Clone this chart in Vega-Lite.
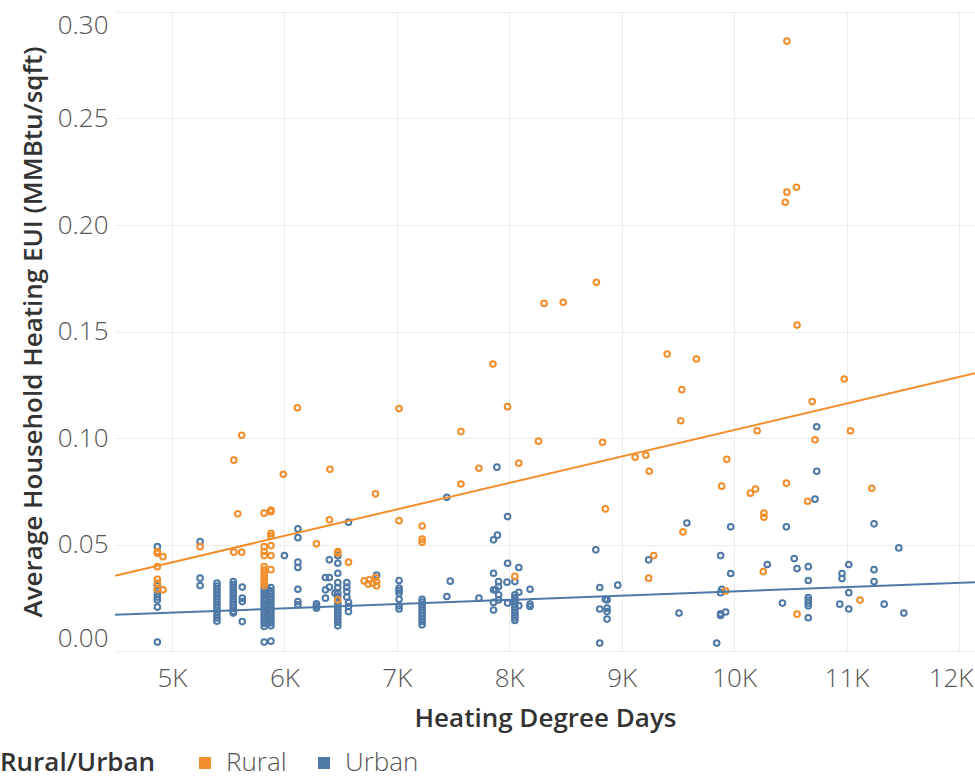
{
  "$schema": "https://vega.github.io/schema/vega-lite/v6.json",
  "width": 860,
  "height": 639,
  "autosize": "none",
  "padding": {"left": 115, "top": 12, "right": 0, "bottom": 127},
  "background": "#ffffff",
  "datasets": {
    "points": [
      {"hdd":4870,"eui":0.0490,"area":"Urban"},{"hdd":4870,"eui":0.0306,"area":"Urban"},{"hdd":4870,"eui":0.0287,"area":"Urban"},{"hdd":4870,"eui":0.0268,"area":"Urban"},{"hdd":4870,"eui":0.0253,"area":"Urban"},{"hdd":4870,"eui":0.0240,"area":"Urban"},{"hdd":4870,"eui":0.0206,"area":"Urban"},{"hdd":4870,"eui":0.0042,"area":"Urban"},
      {"hdd":5250,"eui":0.0514,"area":"Urban"},{"hdd":5250,"eui":0.0342,"area":"Urban"},{"hdd":5250,"eui":0.0307,"area":"Urban"},
      {"hdd":5400,"eui":0.0319,"area":"Urban"},{"hdd":5400,"eui":0.0305,"area":"Urban"},{"hdd":5400,"eui":0.0290,"area":"Urban"},{"hdd":5400,"eui":0.0275,"area":"Urban"},{"hdd":5400,"eui":0.0260,"area":"Urban"},{"hdd":5400,"eui":0.0245,"area":"Urban"},{"hdd":5400,"eui":0.0230,"area":"Urban"},{"hdd":5400,"eui":0.0215,"area":"Urban"},{"hdd":5400,"eui":0.0200,"area":"Urban"},{"hdd":5400,"eui":0.0185,"area":"Urban"},{"hdd":5400,"eui":0.0170,"area":"Urban"},{"hdd":5400,"eui":0.0155,"area":"Urban"},{"hdd":5400,"eui":0.0140,"area":"Urban"},
      {"hdd":5545,"eui":0.0326,"area":"Urban"},{"hdd":5545,"eui":0.0312,"area":"Urban"},{"hdd":5545,"eui":0.0298,"area":"Urban"},{"hdd":5545,"eui":0.0284,"area":"Urban"},{"hdd":5545,"eui":0.0270,"area":"Urban"},{"hdd":5545,"eui":0.0256,"area":"Urban"},{"hdd":5545,"eui":0.0242,"area":"Urban"},{"hdd":5545,"eui":0.0228,"area":"Urban"},{"hdd":5545,"eui":0.0214,"area":"Urban"},{"hdd":5545,"eui":0.0200,"area":"Urban"},{"hdd":5545,"eui":0.0186,"area":"Urban"},{"hdd":5545,"eui":0.0178,"area":"Urban"},
      {"hdd":5625,"eui":0.0300,"area":"Urban"},{"hdd":5625,"eui":0.0248,"area":"Urban"},{"hdd":5625,"eui":0.0232,"area":"Urban"},{"hdd":5625,"eui":0.0138,"area":"Urban"},
      {"hdd":5820,"eui":0.0295,"area":"Urban"},{"hdd":5820,"eui":0.0280,"area":"Urban"},{"hdd":5820,"eui":0.0265,"area":"Urban"},{"hdd":5820,"eui":0.0250,"area":"Urban"},{"hdd":5820,"eui":0.0235,"area":"Urban"},{"hdd":5820,"eui":0.0220,"area":"Urban"},{"hdd":5820,"eui":0.0205,"area":"Urban"},{"hdd":5820,"eui":0.0190,"area":"Urban"},{"hdd":5820,"eui":0.0175,"area":"Urban"},{"hdd":5820,"eui":0.0160,"area":"Urban"},{"hdd":5820,"eui":0.0145,"area":"Urban"},{"hdd":5820,"eui":0.0130,"area":"Urban"},{"hdd":5820,"eui":0.0115,"area":"Urban"},{"hdd":5820,"eui":0.0042,"area":"Urban"},
      {"hdd":5850,"eui":0.0290,"area":"Urban"},{"hdd":5850,"eui":0.0260,"area":"Urban"},{"hdd":5850,"eui":0.0228,"area":"Urban"},{"hdd":5850,"eui":0.0196,"area":"Urban"},{"hdd":5850,"eui":0.0164,"area":"Urban"},{"hdd":5850,"eui":0.0132,"area":"Urban"},
      {"hdd":5880,"eui":0.0298,"area":"Urban"},{"hdd":5880,"eui":0.0283,"area":"Urban"},{"hdd":5880,"eui":0.0268,"area":"Urban"},{"hdd":5880,"eui":0.0253,"area":"Urban"},{"hdd":5880,"eui":0.0238,"area":"Urban"},{"hdd":5880,"eui":0.0223,"area":"Urban"},{"hdd":5880,"eui":0.0208,"area":"Urban"},{"hdd":5880,"eui":0.0193,"area":"Urban"},{"hdd":5880,"eui":0.0178,"area":"Urban"},{"hdd":5880,"eui":0.0163,"area":"Urban"},{"hdd":5880,"eui":0.0148,"area":"Urban"},{"hdd":5880,"eui":0.0133,"area":"Urban"},{"hdd":5880,"eui":0.0118,"area":"Urban"},{"hdd":5880,"eui":0.0046,"area":"Urban"},
      {"hdd":6000,"eui":0.0448,"area":"Urban"},
      {"hdd":6120,"eui":0.0573,"area":"Urban"},{"hdd":6120,"eui":0.0532,"area":"Urban"},{"hdd":6120,"eui":0.0417,"area":"Urban"},{"hdd":6120,"eui":0.0392,"area":"Urban"},{"hdd":6120,"eui":0.0290,"area":"Urban"},{"hdd":6120,"eui":0.0232,"area":"Urban"},{"hdd":6120,"eui":0.0217,"area":"Urban"},
      {"hdd":6285,"eui":0.0221,"area":"Urban"},{"hdd":6285,"eui":0.0211,"area":"Urban"},{"hdd":6285,"eui":0.0201,"area":"Urban"},
      {"hdd":6365,"eui":0.0345,"area":"Urban"},{"hdd":6365,"eui":0.0287,"area":"Urban"},{"hdd":6365,"eui":0.0248,"area":"Urban"},
      {"hdd":6400,"eui":0.0428,"area":"Urban"},{"hdd":6400,"eui":0.0345,"area":"Urban"},{"hdd":6400,"eui":0.0300,"area":"Urban"},
      {"hdd":6450,"eui":0.0272,"area":"Urban"},
      {"hdd":6475,"eui":0.0447,"area":"Urban"},{"hdd":6475,"eui":0.0412,"area":"Urban"},{"hdd":6475,"eui":0.0365,"area":"Urban"},{"hdd":6475,"eui":0.0321,"area":"Urban"},{"hdd":6475,"eui":0.0298,"area":"Urban"},{"hdd":6475,"eui":0.0272,"area":"Urban"},{"hdd":6475,"eui":0.0256,"area":"Urban"},{"hdd":6475,"eui":0.0225,"area":"Urban"},{"hdd":6475,"eui":0.0210,"area":"Urban"},{"hdd":6475,"eui":0.0195,"area":"Urban"},{"hdd":6475,"eui":0.0180,"area":"Urban"},{"hdd":6475,"eui":0.0165,"area":"Urban"},{"hdd":6475,"eui":0.0150,"area":"Urban"},{"hdd":6475,"eui":0.0135,"area":"Urban"},{"hdd":6475,"eui":0.0118,"area":"Urban"},
      {"hdd":6555,"eui":0.0321,"area":"Urban"},{"hdd":6555,"eui":0.0300,"area":"Urban"},{"hdd":6555,"eui":0.0279,"area":"Urban"},{"hdd":6555,"eui":0.0253,"area":"Urban"},
      {"hdd":6570,"eui":0.0605,"area":"Urban"},{"hdd":6570,"eui":0.0228,"area":"Urban"},{"hdd":6570,"eui":0.0209,"area":"Urban"},{"hdd":6570,"eui":0.0185,"area":"Urban"},
      {"hdd":6820,"eui":0.0357,"area":"Urban"},
      {"hdd":7020,"eui":0.0331,"area":"Urban"},{"hdd":7020,"eui":0.0295,"area":"Urban"},{"hdd":7020,"eui":0.0284,"area":"Urban"},{"hdd":7020,"eui":0.0272,"area":"Urban"},{"hdd":7020,"eui":0.0243,"area":"Urban"},{"hdd":7020,"eui":0.0212,"area":"Urban"},{"hdd":7020,"eui":0.0197,"area":"Urban"},
      {"hdd":7225,"eui":0.0243,"area":"Urban"},{"hdd":7225,"eui":0.0230,"area":"Urban"},{"hdd":7225,"eui":0.0217,"area":"Urban"},{"hdd":7225,"eui":0.0204,"area":"Urban"},{"hdd":7225,"eui":0.0191,"area":"Urban"},{"hdd":7225,"eui":0.0178,"area":"Urban"},{"hdd":7225,"eui":0.0165,"area":"Urban"},{"hdd":7225,"eui":0.0152,"area":"Urban"},{"hdd":7225,"eui":0.0139,"area":"Urban"},{"hdd":7225,"eui":0.0123,"area":"Urban"},
      {"hdd":7445,"eui":0.0722,"area":"Urban"},{"hdd":7445,"eui":0.0256,"area":"Urban"},
      {"hdd":7475,"eui":0.0328,"area":"Urban"},
      {"hdd":7730,"eui":0.0248,"area":"Urban"},
      {"hdd":7860,"eui":0.0522,"area":"Urban"},{"hdd":7860,"eui":0.0365,"area":"Urban"},{"hdd":7860,"eui":0.0287,"area":"Urban"},{"hdd":7860,"eui":0.0228,"area":"Urban"},{"hdd":7860,"eui":0.0192,"area":"Urban"},
      {"hdd":7880,"eui":0.0287,"area":"Urban"},
      {"hdd":7890,"eui":0.0863,"area":"Urban"},
      {"hdd":7895,"eui":0.0544,"area":"Urban"},
      {"hdd":7905,"eui":0.0326,"area":"Urban"},{"hdd":7905,"eui":0.0303,"area":"Urban"},{"hdd":7905,"eui":0.0264,"area":"Urban"},{"hdd":7905,"eui":0.0240,"area":"Urban"},
      {"hdd":7980,"eui":0.0323,"area":"Urban"},
      {"hdd":7985,"eui":0.0631,"area":"Urban"},{"hdd":7985,"eui":0.0412,"area":"Urban"},{"hdd":7985,"eui":0.0225,"area":"Urban"},
      {"hdd":8050,"eui":0.0326,"area":"Urban"},{"hdd":8050,"eui":0.0264,"area":"Urban"},{"hdd":8050,"eui":0.0250,"area":"Urban"},{"hdd":8050,"eui":0.0236,"area":"Urban"},{"hdd":8050,"eui":0.0222,"area":"Urban"},{"hdd":8050,"eui":0.0208,"area":"Urban"},{"hdd":8050,"eui":0.0194,"area":"Urban"},{"hdd":8050,"eui":0.0180,"area":"Urban"},{"hdd":8050,"eui":0.0166,"area":"Urban"},{"hdd":8050,"eui":0.0155,"area":"Urban"},{"hdd":8050,"eui":0.0143,"area":"Urban"},
      {"hdd":8085,"eui":0.0392,"area":"Urban"},{"hdd":8085,"eui":0.0276,"area":"Urban"},{"hdd":8085,"eui":0.0213,"area":"Urban"},
      {"hdd":8185,"eui":0.0290,"area":"Urban"},{"hdd":8185,"eui":0.0220,"area":"Urban"},{"hdd":8185,"eui":0.0209,"area":"Urban"},
      {"hdd":8770,"eui":0.0475,"area":"Urban"},
      {"hdd":8805,"eui":0.0298,"area":"Urban"},{"hdd":8805,"eui":0.0197,"area":"Urban"},{"hdd":8805,"eui":0.0037,"area":"Urban"},
      {"hdd":8855,"eui":0.0243,"area":"Urban"},
      {"hdd":8870,"eui":0.0240,"area":"Urban"},{"hdd":8870,"eui":0.0201,"area":"Urban"},{"hdd":8870,"eui":0.0185,"area":"Urban"},{"hdd":8870,"eui":0.0150,"area":"Urban"},
      {"hdd":8965,"eui":0.0309,"area":"Urban"},
      {"hdd":9240,"eui":0.0428,"area":"Urban"},
      {"hdd":9510,"eui":0.0178,"area":"Urban"},
      {"hdd":9580,"eui":0.0601,"area":"Urban"},
      {"hdd":9845,"eui":0.0037,"area":"Urban"},
      {"hdd":9880,"eui":0.0448,"area":"Urban"},{"hdd":9880,"eui":0.0274,"area":"Urban"},{"hdd":9880,"eui":0.0175,"area":"Urban"},{"hdd":9880,"eui":0.0167,"area":"Urban"},
      {"hdd":9890,"eui":0.0290,"area":"Urban"},
      {"hdd":9925,"eui":0.0183,"area":"Urban"},
      {"hdd":9970,"eui":0.0583,"area":"Urban"},{"hdd":9970,"eui":0.0364,"area":"Urban"},
      {"hdd":10295,"eui":0.0406,"area":"Urban"},
      {"hdd":10430,"eui":0.0225,"area":"Urban"},
      {"hdd":10465,"eui":0.0583,"area":"Urban"},
      {"hdd":10535,"eui":0.0434,"area":"Urban"},
      {"hdd":10560,"eui":0.0387,"area":"Urban"},
      {"hdd":10660,"eui":0.0396,"area":"Urban"},{"hdd":10660,"eui":0.0331,"area":"Urban"},{"hdd":10660,"eui":0.0251,"area":"Urban"},{"hdd":10660,"eui":0.0238,"area":"Urban"},{"hdd":10660,"eui":0.0225,"area":"Urban"},{"hdd":10660,"eui":0.0212,"area":"Urban"},{"hdd":10660,"eui":0.0156,"area":"Urban"},
      {"hdd":10720,"eui":0.0713,"area":"Urban"},
      {"hdd":10735,"eui":0.1053,"area":"Urban"},{"hdd":10735,"eui":0.0844,"area":"Urban"},
      {"hdd":10940,"eui":0.0220,"area":"Urban"},
      {"hdd":10960,"eui":0.0364,"area":"Urban"},{"hdd":10960,"eui":0.0340,"area":"Urban"},
      {"hdd":11020,"eui":0.0406,"area":"Urban"},{"hdd":11020,"eui":0.0274,"area":"Urban"},{"hdd":11020,"eui":0.0197,"area":"Urban"},
      {"hdd":11245,"eui":0.0597,"area":"Urban"},{"hdd":11245,"eui":0.0382,"area":"Urban"},{"hdd":11245,"eui":0.0326,"area":"Urban"},
      {"hdd":11335,"eui":0.0220,"area":"Urban"},
      {"hdd":11465,"eui":0.0484,"area":"Urban"},
      {"hdd":11510,"eui":0.0178,"area":"Urban"},
      {"hdd":4870,"eui":0.0467,"area":"Rural"},{"hdd":4870,"eui":0.0459,"area":"Rural"},{"hdd":4870,"eui":0.0396,"area":"Rural"},{"hdd":4870,"eui":0.0337,"area":"Rural"},{"hdd":4870,"eui":0.0319,"area":"Rural"},{"hdd":4870,"eui":0.0290,"area":"Rural"},
      {"hdd":4920,"eui":0.0443,"area":"Rural"},{"hdd":4920,"eui":0.0287,"area":"Rural"},
      {"hdd":5250,"eui":0.0490,"area":"Rural"},
      {"hdd":5550,"eui":0.0896,"area":"Rural"},{"hdd":5550,"eui":0.0464,"area":"Rural"},
      {"hdd":5585,"eui":0.0644,"area":"Rural"},
      {"hdd":5620,"eui":0.1013,"area":"Rural"},{"hdd":5620,"eui":0.0464,"area":"Rural"},
      {"hdd":5820,"eui":0.0647,"area":"Rural"},{"hdd":5820,"eui":0.0490,"area":"Rural"},{"hdd":5820,"eui":0.0467,"area":"Rural"},{"hdd":5820,"eui":0.0448,"area":"Rural"},{"hdd":5820,"eui":0.0396,"area":"Rural"},{"hdd":5820,"eui":0.0380,"area":"Rural"},{"hdd":5820,"eui":0.0365,"area":"Rural"},{"hdd":5820,"eui":0.0350,"area":"Rural"},{"hdd":5820,"eui":0.0335,"area":"Rural"},{"hdd":5820,"eui":0.0320,"area":"Rural"},{"hdd":5820,"eui":0.0306,"area":"Rural"},
      {"hdd":5880,"eui":0.0662,"area":"Rural"},{"hdd":5880,"eui":0.0654,"area":"Rural"},{"hdd":5880,"eui":0.0553,"area":"Rural"},{"hdd":5880,"eui":0.0540,"area":"Rural"},{"hdd":5880,"eui":0.0495,"area":"Rural"},{"hdd":5880,"eui":0.0448,"area":"Rural"},{"hdd":5880,"eui":0.0382,"area":"Rural"},
      {"hdd":5990,"eui":0.0830,"area":"Rural"},
      {"hdd":6115,"eui":0.1142,"area":"Rural"},
      {"hdd":6285,"eui":0.0503,"area":"Rural"},
      {"hdd":6400,"eui":0.0616,"area":"Rural"},
      {"hdd":6405,"eui":0.0853,"area":"Rural"},
      {"hdd":6475,"eui":0.0467,"area":"Rural"},{"hdd":6475,"eui":0.0459,"area":"Rural"},{"hdd":6475,"eui":0.0240,"area":"Rural"},
      {"hdd":6570,"eui":0.0417,"area":"Rural"},
      {"hdd":6710,"eui":0.0329,"area":"Rural"},
      {"hdd":6745,"eui":0.0314,"area":"Rural"},
      {"hdd":6755,"eui":0.0334,"area":"Rural"},
      {"hdd":6785,"eui":0.0318,"area":"Rural"},
      {"hdd":6810,"eui":0.0345,"area":"Rural"},{"hdd":6810,"eui":0.0738,"area":"Rural"},
      {"hdd":6820,"eui":0.0326,"area":"Rural"},{"hdd":6820,"eui":0.0306,"area":"Rural"},
      {"hdd":7020,"eui":0.0612,"area":"Rural"},{"hdd":7020,"eui":0.1138,"area":"Rural"},
      {"hdd":7225,"eui":0.0587,"area":"Rural"},{"hdd":7225,"eui":0.0525,"area":"Rural"},{"hdd":7225,"eui":0.0511,"area":"Rural"},
      {"hdd":7570,"eui":0.1030,"area":"Rural"},{"hdd":7570,"eui":0.0784,"area":"Rural"},
      {"hdd":7730,"eui":0.0858,"area":"Rural"},
      {"hdd":7855,"eui":0.1347,"area":"Rural"},
      {"hdd":7985,"eui":0.1147,"area":"Rural"},
      {"hdd":8050,"eui":0.0350,"area":"Rural"},
      {"hdd":8085,"eui":0.0882,"area":"Rural"},
      {"hdd":8260,"eui":0.0985,"area":"Rural"},
      {"hdd":8310,"eui":0.1632,"area":"Rural"},
      {"hdd":8480,"eui":0.1637,"area":"Rural"},
      {"hdd":8775,"eui":0.1731,"area":"Rural"},
      {"hdd":8830,"eui":0.0980,"area":"Rural"},
      {"hdd":8855,"eui":0.0667,"area":"Rural"},
      {"hdd":9120,"eui":0.0910,"area":"Rural"},
      {"hdd":9215,"eui":0.0919,"area":"Rural"},
      {"hdd":9240,"eui":0.0342,"area":"Rural"},
      {"hdd":9245,"eui":0.0844,"area":"Rural"},
      {"hdd":9285,"eui":0.0448,"area":"Rural"},
      {"hdd":9405,"eui":0.1394,"area":"Rural"},
      {"hdd":9525,"eui":0.1081,"area":"Rural"},
      {"hdd":9535,"eui":0.1227,"area":"Rural"},
      {"hdd":9545,"eui":0.0559,"area":"Rural"},
      {"hdd":9665,"eui":0.1371,"area":"Rural"},
      {"hdd":9890,"eui":0.0774,"area":"Rural"},
      {"hdd":9925,"eui":0.0282,"area":"Rural"},
      {"hdd":9935,"eui":0.0900,"area":"Rural"},
      {"hdd":10145,"eui":0.0741,"area":"Rural"},
      {"hdd":10190,"eui":0.0760,"area":"Rural"},
      {"hdd":10205,"eui":0.1034,"area":"Rural"},
      {"hdd":10260,"eui":0.0373,"area":"Rural"},
      {"hdd":10265,"eui":0.0647,"area":"Rural"},{"hdd":10265,"eui":0.0628,"area":"Rural"},
      {"hdd":10455,"eui":0.2107,"area":"Rural"},
      {"hdd":10465,"eui":0.0788,"area":"Rural"},
      {"hdd":10470,"eui":0.2863,"area":"Rural"},{"hdd":10470,"eui":0.2154,"area":"Rural"},
      {"hdd":10555,"eui":0.2177,"area":"Rural"},
      {"hdd":10560,"eui":0.1530,"area":"Rural"},{"hdd":10560,"eui":0.0173,"area":"Rural"},
      {"hdd":10655,"eui":0.0703,"area":"Rural"},
      {"hdd":10695,"eui":0.1171,"area":"Rural"},
      {"hdd":10720,"eui":0.0992,"area":"Rural"},
      {"hdd":10980,"eui":0.1277,"area":"Rural"},
      {"hdd":11035,"eui":0.1034,"area":"Rural"},
      {"hdd":11120,"eui":0.0239,"area":"Rural"},
      {"hdd":11225,"eui":0.0764,"area":"Rural"}
    ],
    "trend": [
      {"hdd":4493,"eui":0.0353,"area":"Rural"},{"hdd":12143,"eui":0.1304,"area":"Rural"},
      {"hdd":4493,"eui":0.0170,"area":"Urban"},{"hdd":12143,"eui":0.0323,"area":"Urban"}
    ]
  },
  "layer": [
    {
      "data": {"name": "points"},
      "mark": {"type": "point", "filled": false, "size": 32, "strokeWidth": 2, "opacity": 1, "clip": true},
      "encoding": {
        "x": {"field": "hdd", "type": "quantitative", "scale": {"domain": [4493, 12143], "nice": false, "zero": false},
          "axis": {"title": "Heating Degree Days", "values": [5000,6000,7000,8000,9000,10000,11000,12000], "labelExpr": "datum.value / 1000 + 'K'",
            "labelAlign": {"condition": {"test": "datum.value == 12000", "value": "right"}, "value": "center"},
            "labelOffset": {"condition": {"test": "datum.value == 12000", "value": 14}, "value": 0}}},
        "y": {"field": "eui", "type": "quantitative", "scale": {"domain": [0, 0.3], "nice": false, "zero": false},
          "axis": {"title": "Average Household Heating EUI (MMBtu/sqft)", "values": [0,0.05,0.1,0.15,0.2,0.25,0.3], "format": ".2f", "labelFlush": true}},
        "color": {"field": "area", "type": "nominal", "scale": {"domain": ["Rural","Urban"], "range": ["#F28E2B","#4E79A7"]},
          "legend": {"title": "Rural/Urban", "orient": "none", "legendX": -115, "legendY": 738, "direction": "horizontal",
            "titleOrient": "left", "symbolType": "square",
            "encode": {"symbols": {"update": {"fill": {"scale": "color", "field": "value"}, "fillOpacity": {"value": 1}, "strokeWidth": {"value": 0}}}}}}
      }
    },
    {
      "data": {"name": "trend"},
      "mark": {"type": "line", "strokeWidth": 2, "clip": true},
      "encoding": {
        "x": {"field": "hdd", "type": "quantitative"},
        "y": {"field": "eui", "type": "quantitative"},
        "color": {"field": "area", "type": "nominal",
          "legend": {"title": "Rural/Urban", "orient": "none", "legendX": -115, "legendY": 738, "direction": "horizontal",
            "titleOrient": "left", "symbolType": "square",
            "encode": {"symbols": {"update": {"fill": {"scale": "color", "field": "value"}, "fillOpacity": {"value": 1}, "strokeWidth": {"value": 0}}}}}}
      }
    }
  ],
  "config": {
    "view": {"stroke": null},
    "axis": {
      "grid": true, "gridColor": "#ececec", "gridWidth": 1, "domain": false, "ticks": false,
      "labelFont": "Open Sans", "labelFontWeight": 300, "labelFontSize": 26, "labelColor": "#555555",
      "titleFont": "Open Sans", "titleFontWeight": 600, "titleFontSize": 26, "titleColor": "#333333"
    },
    "axisX": {"labelPadding": 14, "titlePadding": 14},
    "axisY": {"labelPadding": 7, "titlePadding": 11},
    "legend": {
      "titleFont": "Open Sans", "titleFontWeight": 600, "titleFontSize": 26, "titleColor": "#333333", "titlePadding": 36,
      "labelFont": "Open Sans", "labelFontWeight": 300, "labelFontSize": 26, "labelColor": "#555555",
      "symbolSize": 144, "labelOffset": 8, "columnPadding": 24
    }
  }
}
